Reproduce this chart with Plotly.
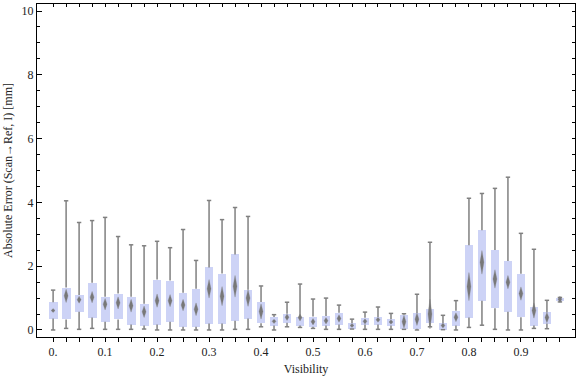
import plotly.graph_objects as go

# Visibility bins (box positions)
visibility = [0.000, 0.025, 0.050, 0.075, 0.100, 0.125, 0.150, 0.175, 0.200, 0.225,
              0.250, 0.275, 0.300, 0.325, 0.350, 0.375, 0.400, 0.425, 0.450, 0.475,
              0.500, 0.525, 0.550, 0.575, 0.600, 0.625, 0.650, 0.675, 0.700, 0.725,
              0.750, 0.775, 0.800, 0.825, 0.850, 0.875, 0.900, 0.925, 0.950, 0.975]

# Box-whisker statistics [mm]
whisker_low = [0.00, 0.05, 0.02, 0.05, 0.02, 0.02, 0.02, 0.03, 0.00, 0.00,
               0.00, 0.00, 0.00, 0.00, 0.02, 0.02, 0.10, 0.00, 0.10, 0.08,
               0.05, 0.02, 0.02, 0.03, 0.02, 0.02, 0.02, 0.02, 0.00, 0.10,
               0.01, 0.00, 0.08, 0.15, 0.02, 0.00, 0.00, 0.05, 0.04, 0.88]
q1 = [0.36, 0.33, 0.57, 0.39, 0.26, 0.33, 0.17, 0.14, 0.17, 0.26,
      0.10, 0.10, 0.20, 0.20, 0.29, 0.36, 0.21, 0.14, 0.23, 0.14,
      0.10, 0.14, 0.17, 0.03, 0.17, 0.17, 0.14, 0.03, 0.04, 0.22,
      0.01, 0.14, 0.39, 0.92, 0.68, 0.57, 0.40, 0.14, 0.20, 0.92]
median = [0.61, 1.07, 0.95, 1.03, 0.81, 0.85, 0.76, 0.57, 0.92, 0.92,
          0.78, 0.65, 1.29, 1.06, 1.37, 1.00, 0.58, 0.27, 0.40, 0.39,
          0.26, 0.29, 0.36, 0.14, 0.27, 0.32, 0.25, 0.26, 0.34, 0.50,
          0.14, 0.40, 1.36, 2.12, 1.60, 1.50, 1.14, 0.61, 0.39, 0.96]
q3 = [0.87, 1.33, 1.10, 1.48, 1.04, 1.14, 1.04, 0.82, 1.58, 1.55,
      1.17, 1.29, 1.96, 1.77, 2.37, 1.26, 0.88, 0.41, 0.51, 0.42,
      0.42, 0.44, 0.54, 0.21, 0.38, 0.41, 0.34, 0.48, 0.53, 0.66,
      0.22, 0.60, 2.66, 3.13, 2.51, 2.16, 1.76, 0.72, 0.55, 0.99]
whisker_high = [1.25, 4.05, 3.37, 3.43, 3.53, 2.93, 2.67, 2.64, 2.78, 2.58,
                3.15, 2.18, 4.06, 3.46, 3.84, 3.56, 1.38, 0.48, 0.87, 1.44,
                0.97, 1.00, 0.78, 0.34, 0.56, 0.72, 0.52, 0.51, 1.12, 2.75,
                0.46, 0.92, 4.13, 4.28, 4.44, 4.79, 3.03, 2.53, 0.93, 1.02]
# half-height of the median confidence diamond
median_ci = [0.06, 0.21, 0.11, 0.18, 0.18, 0.19, 0.20, 0.18, 0.21, 0.19,
             0.18, 0.20, 0.29, 0.30, 0.34, 0.26, 0.24, 0.07, 0.10, 0.11,
             0.10, 0.10, 0.12, 0.06, 0.08, 0.08, 0.07, 0.20, 0.20, 0.47,
             0.08, 0.14, 0.44, 0.37, 0.29, 0.21, 0.21, 0.24, 0.16, 0.10]

x_tick_labels = {0.0: "0.", 0.1: "0.1", 0.2: "0.2", 0.3: "0.3", 0.4: "0.4",
                 0.5: "0.5", 0.6: "0.6", 0.7: "0.7", 0.8: "0.8", 0.9: "0.9"}
y_major = [0, 2, 4, 6, 8, 10]
y_minor = [0.5 * k for k in range(21)]

BOX_FILL = "rgb(205,211,246)"
GRAY = "rgb(128,128,128)"
FONT = dict(family="Liberation Serif", size=12, color="#222222")
BOX_W = 0.017
CAP_HW = 0.0042
DIAM_HW = 0.0038

fig = go.Figure()

# boxes (interquartile range)
fig.add_trace(go.Bar(
    x=visibility, base=q1, y=[b - a for a, b in zip(q1, q3)],
    width=BOX_W, marker=dict(color=BOX_FILL, line=dict(width=0)),
    hoverinfo="skip", showlegend=False))

# whiskers and caps
wx, wy = [], []
for v, lo, a, b, hi in zip(visibility, whisker_low, q1, q3, whisker_high):
    wx += [v, v, None, v, v, None,
           v - CAP_HW, v + CAP_HW, None, v - CAP_HW, v + CAP_HW, None]
    wy += [b, hi, None, a, lo, None, hi, hi, None, lo, lo, None]
fig.add_trace(go.Scatter(
    x=wx, y=wy, mode="lines", line=dict(color=GRAY, width=1.5),
    hoverinfo="skip", showlegend=False))

# median diamonds
dx, dy = [], []
for v, m, c in zip(visibility, median, median_ci):
    dx += [v - DIAM_HW, v, v + DIAM_HW, v, v - DIAM_HW, None]
    dy += [m, m + c, m, m - c, m, None]
fig.add_trace(go.Scatter(
    x=dx, y=dy, mode="lines", fill="toself",
    fillcolor="rgb(120,120,120)", line=dict(color="rgba(128,128,128,0.4)", width=0.8),
    hoverinfo="skip", showlegend=False))

# dummy trace to activate mirror axes
fig.add_trace(go.Scatter(x=[None], y=[None], xaxis="x2", yaxis="y2",
                         showlegend=False, hoverinfo="skip"))

xr = [-0.031, 1.004]
yr = [-0.22, 10.22]
ticktext = [x_tick_labels.get(round(v, 3), "") for v in visibility]

fig.update_layout(
    width=576, height=377,
    margin=dict(l=37, r=1, t=4, b=40, autoexpand=False),
    paper_bgcolor="white", plot_bgcolor="white",
    font=FONT, bargap=0,
    xaxis=dict(range=xr, showgrid=False, zeroline=False, showline=True,
               linecolor="black", linewidth=1,
               tickmode="array", tickvals=visibility, ticktext=ticktext,
               ticks="outside", ticklen=4, tickwidth=1, tickcolor="black",
               tickfont=FONT, automargin=False,
               title=dict(text="Visibility", font=FONT, standoff=6)),
    xaxis2=dict(range=xr, overlaying="x", side="top", showgrid=False,
                zeroline=False, showline=True, linecolor="black", linewidth=1,
                tickmode="array", tickvals=visibility, showticklabels=False,
                ticks="inside", ticklen=3, tickwidth=1, tickcolor="black",
                automargin=False),
    yaxis=dict(range=yr, showgrid=False, zeroline=False, showline=True,
               linecolor="black", linewidth=1,
               tickmode="array", tickvals=y_major, ticktext=[str(v) for v in y_major],
               ticks="inside", ticklen=5, tickwidth=1, tickcolor="black",
               minor=dict(tickmode="array", tickvals=y_minor, ticks="inside",
                          ticklen=3, tickwidth=1, tickcolor="black", showgrid=False),
               tickfont=FONT, automargin=False,
               title=dict(text="Absolute Error (Scan→Ref, I) [mm]", font=FONT, standoff=6)),
    yaxis2=dict(range=yr, overlaying="y", side="right", showgrid=False,
                zeroline=False, showline=True, linecolor="black", linewidth=1,
                tickmode="array", tickvals=y_minor, showticklabels=False,
                ticks="inside", ticklen=3, tickwidth=1, tickcolor="black",
                automargin=False),
)

fig.write_html("out.html", config={"displayModeBar": False},
               post_script="document.body.style.margin='0';document.body.style.padding='0';")
